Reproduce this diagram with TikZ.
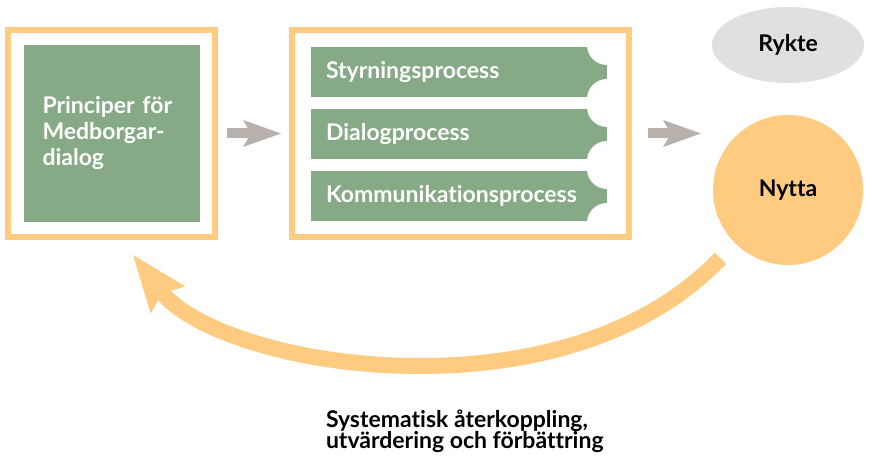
\documentclass[tikz,border=0pt]{standalone}
\usepackage{fontspec}
\setmainfont{Lato}[Ligatures=NoCommon]
\usepackage{tikz}
\usetikzlibrary{arrows.meta,positioning,calc,shapes.geometric}
\definecolor{framegold}{HTML}{FFCB80}
\definecolor{dialoggreen}{HTML}{86AA85}
\definecolor{arrowgray}{HTML}{B8B0AB}
\definecolor{rumorgray}{HTML}{E0E0E0}

\begin{document}
\begin{tikzpicture}[x=1pt, y=1pt,
  every node/.style={outer sep=0pt, font=\fontsize{23}{26}\selectfont\bfseries},
  stepframe/.style={draw=framegold, line width=6pt, minimum width=#1, minimum height=207pt},
  greenbox/.style={fill=dialoggreen, text=white, minimum width=176pt, minimum height=177pt, text width=138pt, inner xsep=19pt, align=left},
  processbar/.style={fill=dialoggreen, text=white, minimum height=50pt, text width=266pt, inner xsep=15pt, align=left,
    path picture={\fill[white] ([yshift=2pt]path picture bounding box.north east) circle (20pt);
                  \fill[white] ([yshift=-2pt]path picture bounding box.south east) circle (20pt);}},
  grayarrow/.style={arrowgray, line width=10pt, -{Stealth[length=38pt, width=27pt, inset=8pt, line width=0pt]}},
  feedarrow/.style={framegold, line width=16pt, -{Stealth[length=57pt, width=44pt, inset=9pt, line width=0pt]}}]
\useasboundingbox (0,0) rectangle (869,460);
\node[stepframe=207pt] (leftframe) at (111.5,326.5) {};
\node[greenbox] (principer) at (leftframe.center) {Principer för\\Medborgar-\\dialog};
\node[stepframe=337pt] (midframe) at (460.5,326.5) {};
\node[processbar] (styrning) at (459,388) {Styrningsprocess};
\node[processbar, below=12pt of styrning] (dialog) {Dialogprocess};
\node[processbar, below=12pt of dialog] (kommunikation) {Kommunikationsprocess};
\node[circle, fill=framegold, minimum size=150pt, inner sep=0pt] (nytta) at (788,270) {Nytta};
\node[ellipse, fill=rumorgray, minimum width=152pt, minimum height=76pt, above=32pt of nytta] (rykte) {Rykte};
\coordinate (feedtip) at (133,205);
\node[anchor=base west, align=left, inner sep=0pt, font={\fontsize{23}{21}\selectfont\bfseries\lineskiplimit=-10pt}] (feedback) at (326,12) {Systematisk återkoppling,\\utvärdering och förbättring};
\draw[grayarrow, shorten <=12pt, shorten >=11pt] (leftframe.east) -- (midframe.west);
\draw[grayarrow, shorten <=19pt, shorten >=12pt] (midframe.east) -- (midframe.east -| nytta.west);
\draw[feedarrow, shorten <=21pt] (nytta.225) .. controls (650,128) and (540,94) .. (420,94) .. controls (290,94) and (189,133) .. (feedtip);
\end{tikzpicture}
\end{document}
